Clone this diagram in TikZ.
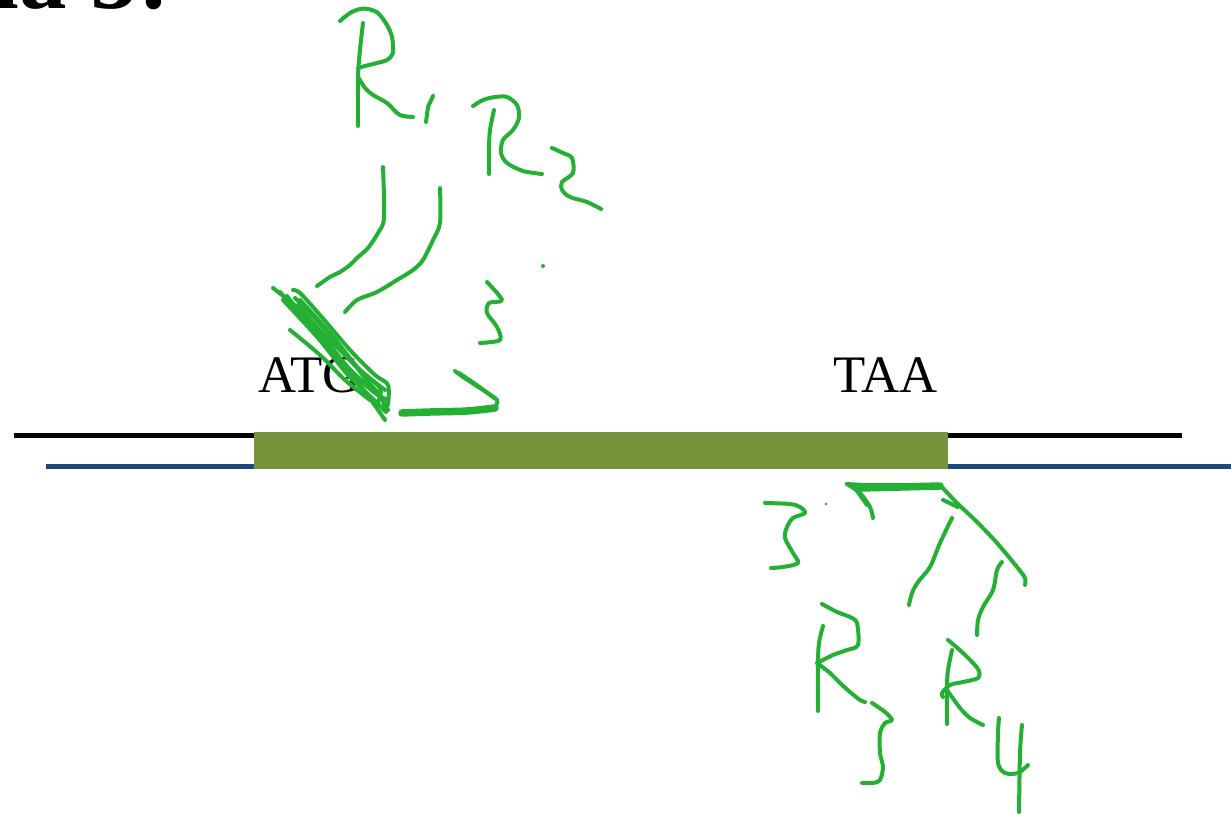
\documentclass[tikz,border=0pt]{standalone}
\usepackage{fontspec}
\setmainfont{Liberation Serif}
\definecolor{pen}{RGB}{36,176,52}
\definecolor{gene}{RGB}{119,147,60}
\definecolor{strandblue}{RGB}{31,73,125}
\begin{document}
\begin{tikzpicture}[x=0.02cm,y=-0.02cm,
  penline/.style={draw=pen,line width=0.08cm,line cap=round,line join=round},
  label/.style={font=\fontsize{30}{36}\selectfont,anchor=base west,inner sep=0pt}]
\useasboundingbox (0,0) rectangle (1231,814);
% title fragment, cut at the top
\node[font=\bfseries\fontsize{54}{64}\selectfont,anchor=base east,inner sep=0pt] (title) at (170,9) {ha 5:};
% strands and gene
\draw[line width=0.1cm,black] (14,435) -- (1182,435);
\draw[line width=0.095cm,strandblue] (46,466.5) -- (1231,466.5);
\fill[gene] (254,432) rectangle (948,469);
\node[label] (atg) at (258,392) {ATG};
\node[label] (taa) at (833,392) {TAA};
% ---- upper handwriting ----
% R1
\draw[penline] plot[smooth] coordinates {(340,21) (350,13) (360,9) (368,9) (378,13) (387,25) (392,37) (393,53) (387,60) (377,63) (365,66) (358,68)};
\draw[penline] plot[smooth] coordinates {(363,23) (360,50) (358,77) (358,126)};
\draw[penline] plot[smooth] coordinates {(358,77) (365,88) (373,95) (387,103) (397,113) (403,116) (413,117)};
\draw[penline] (433,96) -- (428,107) -- (426,122);
% R2
\draw[penline] plot[smooth] coordinates {(494,110) (490,130) (489,147) (489,174)};
\draw[penline] plot[smooth] coordinates {(473,106) (483,100) (495,97) (507,97) (517,105) (519,118) (513,130) (503,140) (501,153) (507,163) (523,171) (542,174)};
\draw[penline] plot[smooth] coordinates {(552,148) (563,153) (572,158) (573,173) (562,182) (562,190) (570,197) (587,202) (601,209)};
% two bonds
\draw[penline] plot[smooth] coordinates {(383,167) (384,218) (378,233) (368,248) (357,258) (350,265) (340,272) (330,277) (317,286)};
\draw[penline] plot[smooth] coordinates {(440,188) (440,223) (433,240) (423,260) (413,270) (397,280) (377,292) (357,300) (345,312)};
% dot and 3
\fill[pen] (543,266) circle (2);
\draw[penline] plot[smooth] coordinates {(487,282) (502,300) (489,303) (487,313) (497,327) (500,340) (480,343)};
% scribble over the start codon
\draw[penline] plot[smooth] coordinates {(273,288) (300,310) (330,340) (360,370) (385,390)};
\draw[penline] plot[smooth] coordinates {(280,292) (310,325) (345,365) (378,395) (388,410)};
\draw[penline] plot[smooth] coordinates {(293,290) (300,293) (320,315) (350,350) (375,375) (388,385) (388,405)};
\draw[penline] plot[smooth] coordinates {(287,296) (325,345) (360,385) (385,420)};
\draw[penline] plot[smooth] coordinates {(290,330) (320,355) (345,380) (370,400)};
\draw[penline] plot[smooth] coordinates {(295,298) (335,340) (365,378) (382,398) (384,410)};
\draw[penline] plot[smooth] coordinates {(300,300) (330,333) (358,368) (380,388) (378,402)};
\draw[penline] plot[smooth] coordinates {(283,300) (318,338) (348,375) (372,398) (386,412)};
\draw[penline] plot[smooth] coordinates {(298,305) (326,340) (352,372) (375,393) (388,400)};
% bottom hook
\draw[penline] plot[smooth] coordinates {(455,371) (463,377) (483,390) (497,400) (495,407)};
\draw[penline] plot[smooth] coordinates {(459,373) (478,386) (494,398)};
\draw[penline,line width=0.15cm] plot[smooth] coordinates {(495,408) (467,411) (430,412) (402,413)};
% ---- lower handwriting ----
% 3 on the left
\draw[penline] plot[smooth] coordinates {(765,503) (790,504) (800,507) (805,513) (793,518) (787,527) (785,538) (793,553) (798,563) (783,567) (771,568)};
\fill[pen] (826,504) circle (1.5);
% bar at the stop codon
\draw[penline,line width=0.15cm] (860,488) -- (940,486);
\draw[penline] plot[smooth] coordinates {(847,484) (860,493) (870,507) (873,518)};
\draw[penline] (855,488) -- (867,505);
\draw[penline] (847,484) -- (863,485) -- (940,485);
% diagonal
\draw[penline] plot[smooth] coordinates {(940,485) (957,503) (977,522) (997,543) (1017,567) (1025,578) (1025,585)};
\draw[penline] (943,500) -- (958,507);
% bonds
\draw[penline] plot[smooth] coordinates {(952,518) (940,543) (930,567) (918,582) (912,593) (909,605)};
\draw[penline] plot[smooth] coordinates {(1002,562) (997,570) (993,590) (983,607) (978,620) (977,635)};
% R3
\draw[penline] plot[smooth] coordinates {(822,604) (837,612) (850,617) (857,623) (858,645) (847,650) (833,655) (817,663)};
\draw[penline] plot[smooth] coordinates {(823,626) (819,643) (818,663) (818,711)};
\draw[penline] plot[smooth] coordinates {(817,663) (830,673) (840,683) (850,692) (860,700) (865,702)};
\draw[penline] plot[smooth] coordinates {(872,703) (885,712) (892,720) (885,723) (880,733) (880,753) (883,767) (880,780) (873,783) (862,783)};
% R4
\draw[penline] plot[smooth] coordinates {(952,650) (948,670) (947,687) (947,724)};
\draw[penline] plot[smooth] coordinates {(948,640) (963,653) (978,669) (978,678) (963,682) (950,685) (942,693) (943,697)};
\draw[penline] plot[smooth] coordinates {(947,690) (960,708) (970,718) (983,725)};
\draw[penline] plot[smooth] coordinates {(999,718) (998,733) (998,763) (1005,773) (1018,773) (1028,765)};
\draw[penline] plot[smooth] coordinates {(1022,725) (1020,753) (1019,812)};
\end{tikzpicture}
\end{document}
